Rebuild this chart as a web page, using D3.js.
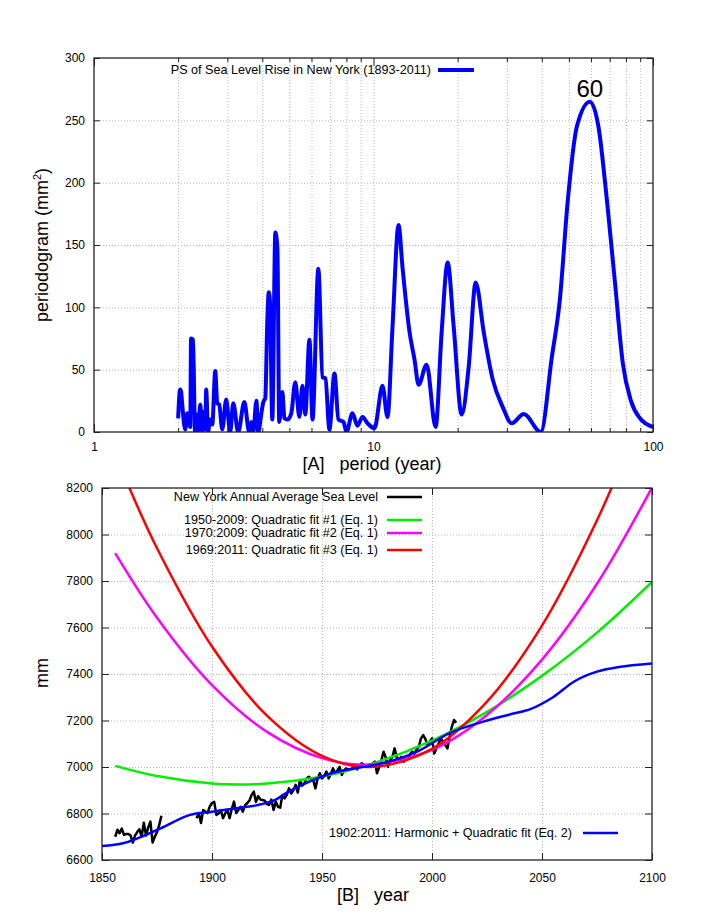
<!DOCTYPE html>
<html lang="en">
<head>
<meta charset="UTF-8">
<title>New York sea level</title>
<style>
  body { margin: 0; background: #fff; }
  svg { font-family: "Liberation Sans", Arial, sans-serif; }
  .grid line { stroke: #b4b4b4; stroke-dasharray: 1,2; }
  .grid path { display: none; }
  .axis path { display: none; }
  .axis line { stroke: #222; }
  .axis text { font-size: 12px; fill: #000; }
  .legend { font-size: 12.6px; }
</style>
</head>
<body>
<script src="https://d3js.org/d3.v7.min.js"></script>
<script>
// ---- panel A: periodogram (period in years, mm^2)
var periods = [2.00, 2.033, 2.05, 2.067, 2.12, 2.155, 2.21, 2.225, 2.26, 2.30, 2.34, 2.36, 2.40, 2.44, 2.46, 2.50,
  2.52, 2.56, 2.60, 2.65, 2.715, 2.76, 2.805, 2.876, 2.972, 3.07, 3.15, 3.28, 3.45, 3.59, 3.65, 3.715, 3.81, 3.87,
  3.97, 4.035, 4.10, 4.17, 4.22, 4.26, 4.345, 4.455, 4.53, 4.60, 4.72, 4.80, 4.92, 5.08, 5.25, 5.43, 5.57, 5.70,
  5.90, 6.05, 6.35, 6.57, 6.73, 6.955, 7.25, 7.49, 7.81, 8.00, 8.41, 8.76, 9.13, 9.52, 10.08, 10.77, 11.22, 11.7,
  12.29, 12.7, 13.46, 14.02, 14.5, 15.49, 16.68, 17.53, 18.42, 19.35, 20.68, 21.9, 23.21, 24.8, 26.71, 29.0,
  31.23, 34.49, 39.68, 43.45, 46.42, 49.57, 53.4, 59.45, 63.8, 68.4, 73.1, 78.0, 83.4, 89.8, 100];
var psValues = [11, 34, 32, 23, 2, 15, 4, 75, 74, 0, 14, 0, 22, 0, 16, 2,
  34, 0, 10, 6, 49, 23, 22, 2, 26, 0, 23, 0, 24, 0, 8, 0, 25, 0,
  15, 24, 27, 90, 112, 105, 10, 160, 148, 8, 32, 11, 10, 15, 40, 12, 37, 14,
  74, 10, 131, 44, 43, 2, 47, 10, 8, 0, 15, 5, 12, 7, 3, 37, 12, 85,
  166, 132, 80, 58, 38, 54, 4, 80, 136, 85, 14, 52, 120, 80, 42, 20,
  7, 14.5, 0, 60, 106, 186, 245, 265, 245, 186, 120, 55, 25, 11, 4];
var periodMajor = [1, 10, 100];
var periodMinor = [2, 3, 4, 5, 6, 7, 8, 9, 20, 30, 40, 50, 60, 70, 80, 90];
var psTicks = [0, 50, 100, 150, 200, 250, 300];

// ---- panel B: annual mean sea level (mm)
var levelEarlyStart = 1856;
var levelEarly = [6700, 6730, 6715, 6735, 6708, 6712, 6712, 6705, 6675, 6705, 6720, 6732, 6700, 6760,
  6705, 6740, 6765, 6675, 6700, 6720, 6750, 6790];
var levelLateStart = 1893;
var levelLate = [6780, 6802, 6759, 6815, 6808, 6802, 6830, 6845, 6850, 6794, 6800, 6815, 6780, 6800, 6815,
  6780, 6820, 6851, 6802, 6815, 6829, 6808, 6835, 6845, 6855, 6880, 6894, 6850, 6875, 6860, 6858, 6855,
  6840, 6837, 6860, 6815, 6851, 6829, 6825, 6880, 6865, 6880, 6908, 6886, 6900, 6923, 6890, 6944, 6920,
  6930, 6951, 6958, 6950, 6944, 6908, 6950, 6973, 6951, 6960, 6980, 6951, 6970, 6994, 6973, 6985, 7001,
  6966, 6985, 6994, 6987, 6990, 6995, 7001, 6990, 7005, 7016, 7010, 7005, 7001, 7010, 7015, 7023, 6973,
  7000, 7030, 7066, 7040, 7001, 7030, 7044, 7080, 7040, 7030, 7044, 7023, 7030, 7037, 7055, 7066, 7058,
  7075, 7087, 7123, 7137, 7120, 7094, 7110, 7123, 7058, 7080, 7101, 7123, 7109, 7095, 7080, 7130, 7173,
  7202, 7190];

var fit1Years = [1856, 1875, 1900, 1913, 1925, 1950, 1975, 2000, 2025, 2050, 2075, 2100];
var fit1 = [7005, 6961, 6929, 6925, 6929, 6959, 7021, 7113, 7237, 7392, 7578, 7796];
var fit2Years = [1856, 1875, 1900, 1925, 1950, 1970, 2000, 2025, 2050, 2075, 2100];
var fit2 = [7920, 7642, 7352, 7151, 7038, 7010, 7074, 7224, 7462, 7788, 8202];
var fit3Years = [1850, 1862, 1875, 1900, 1925, 1950, 1972, 2000, 2025, 2050, 2075, 2090];
var fit3 = [8480, 8210, 7941, 7518, 7221, 7048, 7000, 7078, 7281, 7608, 8061, 8392];
var harmYears = [1850, 1860, 1875, 1890, 1900, 1912, 1920, 1928, 1935, 1945, 1955, 1965, 1978, 1993, 2008,
  2023, 2035, 2045, 2055, 2065, 2075, 2085, 2100];
var harm = [6660, 6673, 6729, 6794, 6808, 6824, 6835, 6855, 6895, 6940, 6975, 6995, 7017, 7065, 7146,
  7194, 7225, 7250, 7300, 7370, 7410, 7430, 7445];
var yearTicks = [1850, 1900, 1950, 2000, 2050, 2100];
var mmTicks = [6600, 6800, 7000, 7200, 7400, 7600, 7800, 8000, 8200];

var W = 708, H = 917;
var svg = d3.select("body").append("svg").attr("width", W).attr("height", H);

// ================= panel A =================
var a = {left: 94, right: 653, top: 58, bottom: 432};
var xA = d3.scaleLog().domain([1, 100]).range([a.left, a.right]);
var yA = d3.scaleLinear().domain([0, 300]).range([a.bottom, a.top]);

var defs = svg.append("defs");
defs.append("clipPath").attr("id", "clipA").append("rect")
  .attr("x", a.left).attr("y", a.top).attr("width", a.right - a.left).attr("height", a.bottom - a.top);

// grid
svg.append("g").attr("class", "grid")
  .attr("transform", "translate(0," + a.bottom + ")")
  .call(d3.axisBottom(xA).tickValues(periodMinor.concat([10])).tickSize(-(a.bottom - a.top)).tickFormat(""));
svg.append("g").attr("class", "grid")
  .attr("transform", "translate(" + a.left + ",0)")
  .call(d3.axisLeft(yA).tickValues([50, 100, 150, 200, 250]).tickSize(-(a.right - a.left)).tickFormat(""));

// axes (ticks inward, mirrored)
svg.append("g").attr("class", "axis")
  .attr("transform", "translate(0," + a.bottom + ")")
  .call(d3.axisBottom(xA).tickValues(periodMajor).tickSizeInner(-8).tickSizeOuter(0).tickPadding(10)
    .tickFormat(d3.format("d")));
svg.append("g").attr("class", "axis")
  .attr("transform", "translate(0," + a.bottom + ")")
  .call(d3.axisBottom(xA).tickValues(periodMinor).tickSizeInner(-4).tickSizeOuter(0).tickFormat(""));
svg.append("g").attr("class", "axis")
  .attr("transform", "translate(0," + a.top + ")")
  .call(d3.axisTop(xA).tickValues(periodMajor).tickSizeInner(-8).tickSizeOuter(0).tickFormat(""));
svg.append("g").attr("class", "axis")
  .attr("transform", "translate(0," + a.top + ")")
  .call(d3.axisTop(xA).tickValues(periodMinor).tickSizeInner(-4).tickSizeOuter(0).tickFormat(""));
svg.append("g").attr("class", "axis")
  .attr("transform", "translate(" + a.left + ",0)")
  .call(d3.axisLeft(yA).tickValues(psTicks).tickSizeInner(-6).tickSizeOuter(0).tickPadding(9));
svg.append("g").attr("class", "axis")
  .attr("transform", "translate(" + a.right + ",0)")
  .call(d3.axisRight(yA).tickValues(psTicks).tickSizeInner(-6).tickSizeOuter(0).tickFormat(""));

// curve
var psData = periods.map(function(p, i) { return {p: p, v: psValues[i]}; });
var psLine = d3.line()
  .x(function(d) { return xA(d.p); })
  .y(function(d) { return yA(d.v); })
  .curve(d3.curveMonotoneX);
svg.append("path").datum(psData)
  .attr("clip-path", "url(#clipA)")
  .attr("fill", "none").attr("stroke", "#0000ff").attr("stroke-width", 4)
  .attr("stroke-linejoin", "round")
  .attr("d", psLine);

svg.append("rect").attr("x", a.left).attr("y", a.top)
  .attr("width", a.right - a.left).attr("height", a.bottom - a.top)
  .attr("fill", "none").attr("stroke", "#222").attr("stroke-width", 1.3);

// legend A
svg.append("text").attr("class", "legend").attr("x", 431).attr("y", 74)
  .attr("text-anchor", "end").text("PS of Sea Level Rise in New York (1893-2011)");
svg.append("line").attr("x1", 438).attr("x2", 474).attr("y1", 70).attr("y2", 70)
  .attr("stroke", "#0000ff").attr("stroke-width", 4);

// peak label
svg.append("text").attr("x", xA(59.45)).attr("y", 97).attr("text-anchor", "middle")
  .style("font-size", "24px").text("60");

svg.append("text").attr("x", 372).attr("y", 470).attr("text-anchor", "middle")
  .style("font-size", "18px").style("white-space", "pre").text("[A]   period (year)");
svg.append("text").attr("transform", "translate(48,245) rotate(-90)").attr("text-anchor", "middle")
  .style("font-size", "18px").html("periodogram (mm<tspan dy='-7' font-size='11px'>2</tspan><tspan dy='7'>)</tspan>");

// ================= panel B =================
var b = {left: 102, right: 652, top: 488, bottom: 860};
var xB = d3.scaleLinear().domain([1850, 2100]).range([b.left, b.right]);
var yB = d3.scaleLinear().domain([6600, 8200]).range([b.bottom, b.top]);

defs.append("clipPath").attr("id", "clipB").append("rect")
  .attr("x", b.left).attr("y", b.top).attr("width", b.right - b.left).attr("height", b.bottom - b.top);

svg.append("g").attr("class", "grid")
  .attr("transform", "translate(0," + b.bottom + ")")
  .call(d3.axisBottom(xB).tickValues([1900, 1950, 2000, 2050]).tickSize(-(b.bottom - b.top)).tickFormat(""));
svg.append("g").attr("class", "grid")
  .attr("transform", "translate(" + b.left + ",0)")
  .call(d3.axisLeft(yB).tickValues(mmTicks.slice(1, -1)).tickSize(-(b.right - b.left)).tickFormat(""));

svg.append("g").attr("class", "axis")
  .attr("transform", "translate(0," + b.bottom + ")")
  .call(d3.axisBottom(xB).tickValues(yearTicks).tickSizeInner(-7).tickSizeOuter(0).tickPadding(13)
    .tickFormat(d3.format("d")));
svg.append("g").attr("class", "axis")
  .attr("transform", "translate(0," + b.top + ")")
  .call(d3.axisTop(xB).tickValues(yearTicks).tickSizeInner(-7).tickSizeOuter(0).tickFormat(""));
svg.append("g").attr("class", "axis")
  .attr("transform", "translate(" + b.left + ",0)")
  .call(d3.axisLeft(yB).tickValues(mmTicks).tickSizeInner(-7).tickSizeOuter(0).tickPadding(9)
    .tickFormat(d3.format("d")));
svg.append("g").attr("class", "axis")
  .attr("transform", "translate(" + b.right + ",0)")
  .call(d3.axisRight(yB).tickValues(mmTicks).tickSizeInner(-7).tickSizeOuter(0).tickFormat(""));

var lineB = d3.line()
  .x(function(d) { return xB(d[0]); })
  .y(function(d) { return yB(d[1]); });
var smoothB = d3.line()
  .x(function(d) { return xB(d[0]); })
  .y(function(d) { return yB(d[1]); })
  .curve(d3.curveCatmullRom);

function pairs(xs, ys) { return xs.map(function(x, i) { return [x, ys[i]]; }); }

var plotB = svg.append("g").attr("clip-path", "url(#clipB)");

var early = levelEarly.map(function(v, i) { return [levelEarlyStart + i, v]; });
var late = levelLate.map(function(v, i) { return [levelLateStart + i, v]; });
[early, late].forEach(function(seg) {
  plotB.append("path").datum(seg).attr("fill", "none").attr("stroke", "#000")
    .attr("stroke-width", 2.5).attr("stroke-linejoin", "round").attr("d", lineB);
});

var fits = [
  {xs: fit1Years, ys: fit1, color: "#00ee00"},
  {xs: fit2Years, ys: fit2, color: "#ff00ff"},
  {xs: fit3Years, ys: fit3, color: "#ff0000"},
  {xs: harmYears, ys: harm, color: "#0000ff"}
];
fits.forEach(function(f) {
  plotB.append("path").datum(pairs(f.xs, f.ys)).attr("fill", "none").attr("stroke", f.color)
    .attr("stroke-width", 2.5).attr("d", smoothB);
});

svg.append("rect").attr("x", b.left).attr("y", b.top)
  .attr("width", b.right - b.left).attr("height", b.bottom - b.top)
  .attr("fill", "none").attr("stroke", "#222").attr("stroke-width", 1.3);

// legend B
var legendB = [
  {label: "New York Annual Average Sea Level", color: "#000", y: 497},
  {label: "1950-2009: Quadratic fit #1 (Eq. 1)", color: "#00ee00", y: 520},
  {label: "1970:2009: Quadratic fit #2 (Eq. 1)", color: "#ff00ff", y: 533},
  {label: "1969:2011: Quadratic fit #3 (Eq. 1)", color: "#ff0000", y: 550}
];
legendB.forEach(function(l) {
  svg.append("text").attr("class", "legend").attr("x", 378).attr("y", l.y + 4)
    .attr("text-anchor", "end").text(l.label);
  svg.append("line").attr("x1", 387).attr("x2", 422).attr("y1", l.y).attr("y2", l.y)
    .attr("stroke", l.color).attr("stroke-width", 2.5);
});
svg.append("text").attr("class", "legend").attr("x", 572).attr("y", 837)
  .attr("text-anchor", "end").text("1902:2011: Harmonic + Quadratic fit (Eq. 2)");
svg.append("line").attr("x1", 583).attr("x2", 618).attr("y1", 833).attr("y2", 833)
  .attr("stroke", "#0000ff").attr("stroke-width", 2.5);

svg.append("text").attr("x", 373).attr("y", 901).attr("text-anchor", "middle")
  .style("font-size", "18px").style("white-space", "pre").text("[B]   year");
svg.append("text").attr("transform", "translate(48,673) rotate(-90)").attr("text-anchor", "middle")
  .style("font-size", "18px").text("mm");
</script>
</body>
</html>
